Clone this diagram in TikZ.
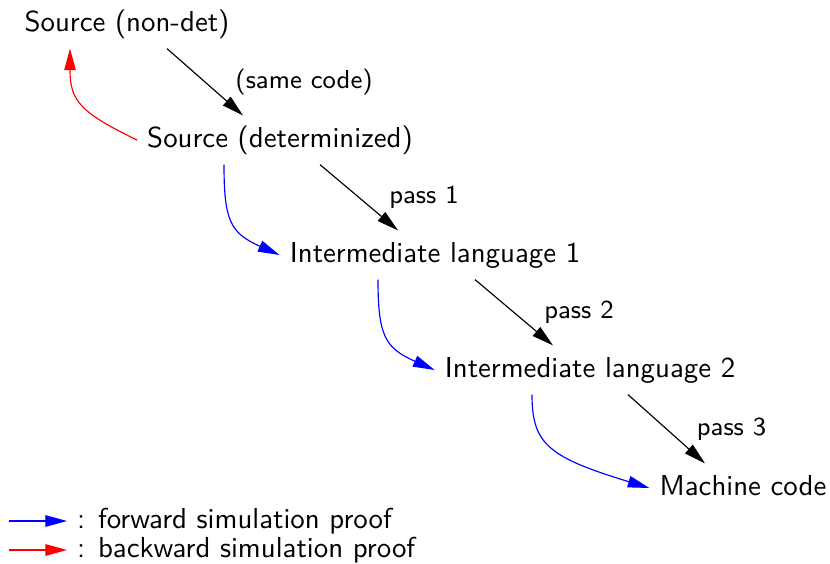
\documentclass[tikz,border=0pt]{standalone}
\usetikzlibrary{arrows.meta, calc}

\begin{document}
\begin{tikzpicture}[x=0.3467pt, y=-0.3467pt,
    langnode/.style={font=\sffamily, text height=7.5pt, text depth=2.5pt},
    passlabel/.style={font=\sffamily\small, right, xshift=7pt},
    tip/.style={-{Triangle[length=7.5pt, width=4pt]}},
    passarrow/.style={tip, black},
    fwd/.style={tip, blue},
    bwd/.style={tip, red}]
  \useasboundingbox (0,0) rectangle (830,563);

  \node[langnode] (src) at (127,24) {Source (non-det)};
  \node[langnode] (det) at (280,140) {Source (determinized)};
  \node[langnode] (il1) at (435,255) {Intermediate language 1};
  \node[langnode] (il2) at (590,370) {Intermediate language 2};
  \node[langnode] (mc) at (743,488) {Machine code};

  \draw[passarrow] ($(src.south)+(40,0)$) -- node[midway, passlabel] {(same code)} ($(det.north)+(-37,0)$);
  \draw[passarrow] ($(det.south)+(40,0)$) -- node[midway, passlabel] {pass 1} ($(il1.north)+(-37,0)$);
  \draw[passarrow] ($(il1.south)+(40,0)$) -- node[midway, passlabel] {pass 2} ($(il2.north)+(-37,0)$);
  \draw[passarrow] ($(il2.south)+(38,0)$) -- node[midway, passlabel] {pass 3} ($(mc.north)+(-38,0)$);

  \draw[fwd] ($(det.south)+(-56,0)$) to[out=-90, in=156, out looseness=1.35, in looseness=1.3] (il1.west);
  \draw[fwd] ($(il1.south)+(-57,0)$) to[out=-90, in=156, out looseness=1.35, in looseness=1.3] (il2.west);
  \draw[fwd] ($(il2.south)+(-58,0)$) to[out=-90, in=163, out looseness=0.85, in looseness=1.8] (mc.west);
  \draw[bwd] (det.west) to[out=154, in=-90, out looseness=1.4, in looseness=1.2] ($(src.south)+(-57,0)$);

  % legend
  \coordinate (fwdstart) at (9,521);
  \coordinate (bwdstart) at (9,550);
  \node[langnode, right] (fwdtext) at (67,521) {: forward simulation proof};
  \node[langnode, right] (bwdtext) at (67,550) {: backward simulation proof};
  \draw[fwd] (fwdstart) -- (fwdtext.west);
  \draw[bwd] (bwdstart) -- (bwdtext.west);
\end{tikzpicture}
\end{document}
